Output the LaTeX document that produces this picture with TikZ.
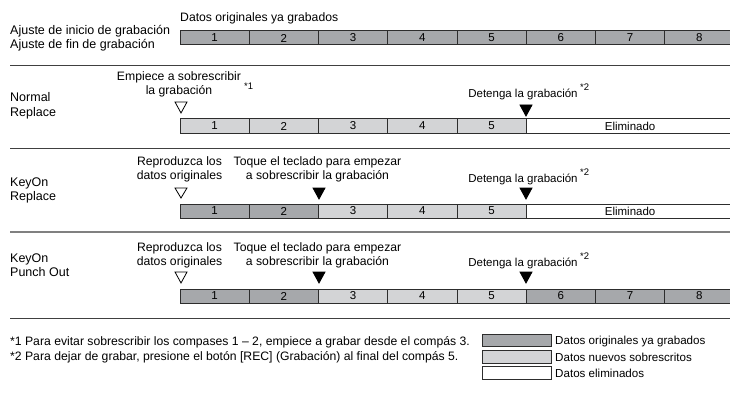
\documentclass[tikz,border=0pt]{standalone}
\usepackage{fontspec}
\setmainfont{Liberation Sans}
\definecolor{dkg}{RGB}{166,168,171}
\definecolor{ltg}{RGB}{211,212,214}
\definecolor{brd}{RGB}{45,45,45}
\begin{document}
\begin{tikzpicture}[x=1pt,y=-1pt,
  cell/.style={draw=brd, line width=1pt, minimum width=69.25pt, minimum height=14pt,
    inner sep=0pt, font=\fontsize{11.5}{13}\selectfont},
  orig/.style={cell, fill=dkg},
  newd/.style={cell, fill=ltg},
  gone/.style={cell, fill=white, minimum width=207.75pt},
  lbl/.style={font=\fontsize{12.5}{14.5}\selectfont, anchor=west, inner sep=0pt, align=left},
  ann/.style={font=\fontsize{12.2}{14}\selectfont, align=center, inner sep=0pt},
  stoplbl/.style={font=\fontsize{11.5}{14}\selectfont, inner sep=0pt},
  star/.style={font=\fontsize{9.5}{10}\selectfont, inner sep=0pt, anchor=west},
  note/.style={font=\fontsize{12.2}{14}\selectfont, anchor=west, inner sep=0pt},
  legnote/.style={font=\fontsize{11.6}{14}\selectfont, anchor=west, inner sep=0pt},
  sep/.style={line width=0.9pt, draw=black!75},
  opentri/.style={draw=black, line width=0.8pt, fill=white},
  filltri/.style={draw=black, line width=0.8pt, fill=black},
  legbox/.style={draw=brd, line width=0.9pt, minimum width=69pt, minimum height=12.5pt, inner sep=0pt}
]
\useasboundingbox (0,0) rectangle (730,409);

% ---------- Row 1 ----------
\node[lbl] (r1lab) at (10,38) {Ajuste de inicio de grabación\\Ajuste de fin de grabación};
\node[ann, anchor=west] (r1top) at (180,18) {Datos originales ya grabados};
\foreach \i in {1,...,8}
  \node[orig] (a\i) at ({180+(\i-0.5)*69.25},38) {\i};
\coordinate (s1l) at (10,65); \coordinate (s1r) at (731,65);
\draw[sep] (s1l) -- (s1r);

% ---------- Row 2 ----------
\node[lbl] (r2lab) at (10,106) {Normal\\Replace};
\node[ann] (r2start) at (179,84) {Empiece a sobrescribir\\la grabación};
\node[star] (r2n1) at (244,86) {*1};
\node[stoplbl] (r2stop) at (523,94) {Detenga la grabación};
\node[star] (r2n2) at (r2stop.east) [yshift=7pt, xshift=2pt] {*2};
\draw[opentri] (175,102) -- (187,102) -- (181,113) -- cycle;
\draw[filltri] (520,105) -- (532,105) -- (526,116) -- cycle;
\foreach \i in {1,...,5}
  \node[newd] (b\i) at ({180+(\i-0.5)*69.25},126) {\i};
\node[gone] (b6) at ({526.25+103.875},126) {Eliminado};
\coordinate (s2l) at (10,148); \coordinate (s2r) at (731,148);
\draw[sep] (s2l) -- (s2r);

% ---------- Row 3 ----------
\node[lbl] (r3lab) at (10,190.5) {KeyOn\\Replace};
\node[ann] (r3play) at (179.5,169) {Reproduzca los\\datos originales};
\node[ann] (r3touch) at (317.5,169) {Toque el teclado para empezar\\a sobrescribir la grabación};
\node[stoplbl] (r3stop) at (523,179) {Detenga la grabación};
\node[star] (r3n2) at (r3stop.east) [yshift=7pt, xshift=2pt] {*2};
\draw[opentri] (175,188) -- (187,188) -- (181,198) -- cycle;
\draw[filltri] (313,188) -- (325,188) -- (319,199) -- cycle;
\draw[filltri] (520,188) -- (532,188) -- (526,199) -- cycle;
\foreach \i in {1,2}
  \node[orig] (c\i) at ({180+(\i-0.5)*69.25},211) {\i};
\foreach \i in {3,4,5}
  \node[newd] (c\i) at ({180+(\i-0.5)*69.25},211) {\i};
\node[gone] (c6) at ({526.25+103.875},211) {Eliminado};
\coordinate (s3l) at (10,232); \coordinate (s3r) at (731,232);
\draw[sep, draw=black!50, line width=1.2pt] (s3l) -- (s3r);

% ---------- Row 4 ----------
\node[lbl] (r4lab) at (10,265) {KeyOn\\Punch Out};
\node[ann] (r4play) at (179.5,255) {Reproduzca los\\datos originales};
\node[ann] (r4touch) at (317.5,255) {Toque el teclado para empezar\\a sobrescribir la grabación};
\node[stoplbl] (r4stop) at (523,263) {Detenga la grabación};
\node[star] (r4n2) at (r4stop.east) [yshift=7pt, xshift=2pt] {*2};
\draw[opentri] (175,272) -- (187,272) -- (181,283) -- cycle;
\draw[filltri] (313,272) -- (325,272) -- (319,283) -- cycle;
\draw[filltri] (520,272) -- (532,272) -- (526,283) -- cycle;
\foreach \i in {1,2,6,7,8}
  \node[orig] (d\i) at ({180+(\i-0.5)*69.25},296) {\i};
\foreach \i in {3,4,5}
  \node[newd] (d\i) at ({180+(\i-0.5)*69.25},296) {\i};
\coordinate (s4l) at (10,318); \coordinate (s4r) at (731,318);
\draw[sep] (s4l) -- (s4r);

% ---------- Footnotes ----------
\node[note] (f1) at (10,342) {*1 Para evitar sobrescribir los compases 1 – 2, empiece a grabar desde el compás 3.};
\node[note] (f2) at (10,357) {*2 Para dejar de grabar, presione el botón [REC] (Grabación) al final del compás 5.};

% ---------- Legend ----------
\node[legbox, fill=dkg] (l1) at (516.5,340.5) {};
\node[legbox, fill=ltg] (l2) at (516.5,357) {};
\node[legbox, fill=white] (l3) at (516.5,373) {};
\node[legnote] (t1) at (555,341) {Datos originales ya grabados};
\node[legnote] (t2) at (555,357) {Datos nuevos sobrescritos};
\node[legnote] (t3) at (555,373) {Datos eliminados};
\end{tikzpicture}
\end{document}
